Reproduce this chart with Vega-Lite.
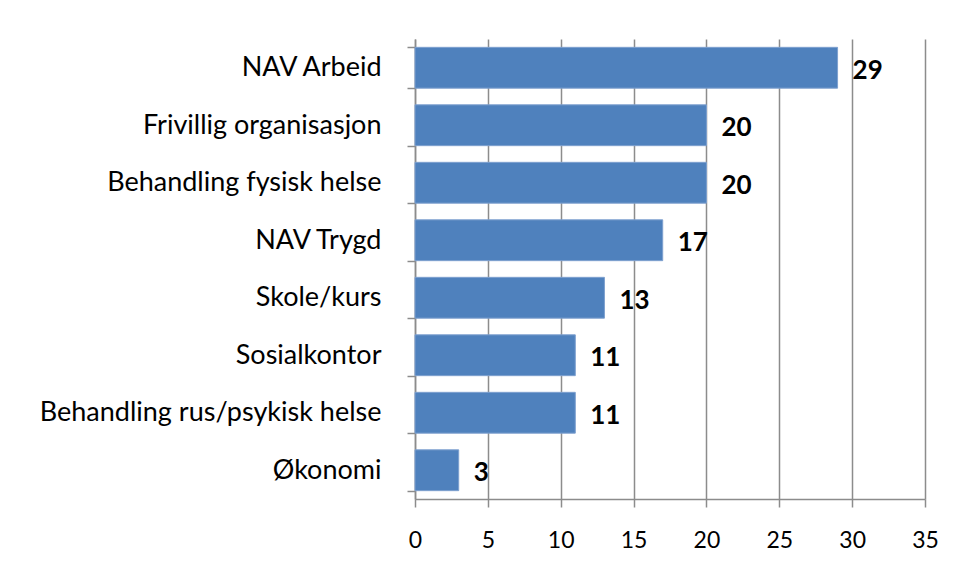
{
  "$schema": "https://vega.github.io/schema/vega-lite/v6.json",
  "width": 510,
  "height": 460,
  "autosize": {"type": "none"},
  "padding": {"left": 415, "top": 39, "right": 32, "bottom": 79},
  "background": "white",
  "data": {
    "values": [
      {"category": "NAV Arbeid", "value": 29},
      {"category": "Frivillig organisasjon", "value": 20},
      {"category": "Behandling fysisk helse", "value": 20},
      {"category": "NAV Trygd", "value": 17},
      {"category": "Skole/kurs", "value": 13},
      {"category": "Sosialkontor", "value": 11},
      {"category": "Behandling rus/psykisk helse", "value": 11},
      {"category": "Økonomi", "value": 3}
    ]
  },
  "encoding": {
    "y": {
      "field": "category",
      "type": "nominal",
      "sort": null,
      "scale": {"paddingInner": 0.29, "paddingOuter": 0.145},
      "axis": {
        "title": null,
        "domain": true,
        "domainColor": "#8c8c8c",
        "domainWidth": 1.5,
        "ticks": true,
        "tickBand": "extent",
        "tickSize": 8,
        "tickColor": "#8c8c8c",
        "tickWidth": 1.5,
        "grid": false,
        "labelFont": "Lato",
        "labelFontSize": 27,
        "labelColor": "#000000",
        "labelPadding": 26,
        "labelLimit": 500
      }
    },
    "x": {
      "field": "value",
      "type": "quantitative",
      "scale": {"domain": [0, 35], "nice": false, "zero": true},
      "axis": {
        "title": null,
        "values": [0, 5, 10, 15, 20, 25, 30, 35],
        "grid": true,
        "gridColor": "#8c8c8c",
        "gridWidth": 1.5,
        "domainColor": "#8c8c8c",
        "domainWidth": 1.5,
        "tickSize": 8,
        "tickColor": "#8c8c8c",
        "tickWidth": 1.5,
        "labelFont": "Lato",
        "labelFontSize": 23,
        "labelColor": "#000000",
        "labelPadding": 22,
        "labelFlush": false
      }
    }
  },
  "layer": [
    {
      "mark": {"type": "bar", "color": "#4F81BD", "stroke": "#7ea0cf", "strokeWidth": 1}
    },
    {
      "mark": {
        "type": "text",
        "align": "left",
        "baseline": "middle",
        "dx": 15,
        "dy": 3,
        "font": "Lato",
        "fontSize": 26,
        "fontWeight": "bold",
        "color": "#000000"
      },
      "encoding": {"text": {"field": "value", "type": "quantitative"}}
    }
  ],
  "config": {"view": {"stroke": null}}
}
